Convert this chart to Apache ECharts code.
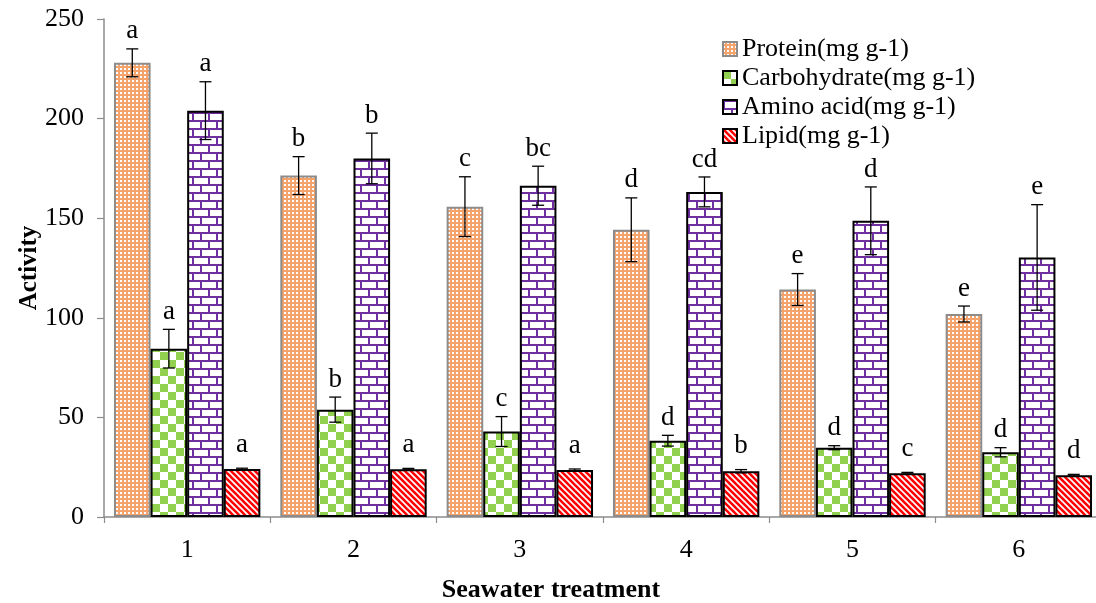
<!DOCTYPE html>
<html>
<head>
<meta charset="utf-8">
<script src="https://cdn.jsdelivr.net/npm/echarts@6/dist/echarts.min.js"></script>
<style>
html,body{margin:0;padding:0;background:#fff;}
#chart{width:1096px;height:603px;}
</style>
</head>
<body>
<div id="chart"></div>
<script>
// ---- data ----
const categories = ['1', '2', '3', '4', '5', '6'];
const seriesNames = ['Protein(mg g-1)', 'Carbohydrate(mg g-1)', 'Amino acid(mg g-1)', 'Lipid(mg g-1)'];
const protein = [228, 171.4, 155.8, 144.2, 114.2, 101.9];
const proteinErr = [7, 9.5, 15, 16, 8, 4];
const proteinLetters = ['a', 'b', 'c', 'd', 'e', 'e'];
const carbohydrate = [84.5, 53.9, 42.9, 38.3, 34.8, 32.5];
const carbohydrateErr = [9.7, 6.3, 7.5, 2.7, 1, 2.3];
const carbohydrateLetters = ['a', 'b', 'c', 'd', 'd', 'd'];
const aminoAcid = [204, 180, 166.3, 163.2, 148.7, 130.3];
const aminoAcidErr = [14.5, 12.7, 9.8, 7.5, 17, 26.5];
const aminoAcidLetters = ['a', 'b', 'bc', 'cd', 'd', 'e'];
const lipid = [24.1, 24, 23.6, 23, 22, 21];
const lipidErr = [0.4, 0.4, 0.5, 0.8, 0.4, 0.4];
const lipidLetters = ['a', 'a', 'a', 'b', 'c', 'd'];
const yTicks = [0, 50, 100, 150, 200, 250];

// ---- patterns ----
function tile(w, h, draw) {
  const c = document.createElement('canvas');
  c.width = w; c.height = h;
  const ctx = c.getContext('2d');
  draw(ctx);
  return { image: c, repeat: 'repeat' };
}
const proteinFill = tile(4, 4, ctx => {
  ctx.fillStyle = '#F4A36C'; ctx.fillRect(0, 0, 4, 4);
  ctx.fillStyle = '#FFFFFF'; ctx.fillRect(0, 0, 2, 2);
});
const carbFill = tile(16, 16, ctx => {
  ctx.fillStyle = '#FFFFFF'; ctx.fillRect(0, 0, 16, 16);
  ctx.fillStyle = '#92D050';
  ctx.fillRect(0, 0, 8, 8); ctx.fillRect(8, 8, 8, 8);
});
const aminoFill = tile(16, 16, ctx => {
  ctx.fillStyle = '#FFFFFF'; ctx.fillRect(0, 0, 16, 16);
  ctx.fillStyle = '#7030A0';
  ctx.fillRect(0, 0, 16, 2); ctx.fillRect(0, 8, 16, 2);
  ctx.fillRect(0, 0, 2, 8); ctx.fillRect(8, 8, 2, 8);
});
const lipidFill = tile(6, 6, ctx => {
  ctx.fillStyle = '#FFFFFF'; ctx.fillRect(0, 0, 6, 6);
  ctx.strokeStyle = '#FF0000'; ctx.lineWidth = 2.6;
  for (let k = -2; k <= 2; k++) {
    ctx.beginPath(); ctx.moveTo(k * 6 - 1, -1); ctx.lineTo(k * 6 + 7, 7); ctx.stroke();
  }
});

const FONT = 'Liberation Serif';
const BAR_W = 0.22;
const values = [protein, carbohydrate, aminoAcid, lipid];
const errs = [proteinErr, carbohydrateErr, aminoAcidErr, lipidErr];
const letters = [proteinLetters, carbohydrateLetters, aminoAcidLetters, lipidLetters];
const fills = [proteinFill, carbFill, aminoFill, lipidFill];
const borders = ['#8C8C8C', '#000000', '#000000', '#000000'];
const letterLift = [0, 0, 0, 6];

const barSeries = seriesNames.map((name, s) => ({
  name: name,
  type: 'bar',
  data: values[s],
  barWidth: (BAR_W * 100) + '%',
  barGap: '0%',
  itemStyle: { color: fills[s], borderColor: borders[s], borderWidth: 2 },
  emphasis: { disabled: true },
  z: 2
}));

const errSeries = seriesNames.map((name, s) => ({
  type: 'custom',
  name: name + ' err',
  data: values[s].map((v, i) => [i, v, errs[s][i]]),
  encode: { x: 0, y: 1 },
  z: 5,
  silent: true,
  renderItem: function (params, api) {
    const cat = api.value(0), v = api.value(1), e = api.value(2);
    const bw = api.size([1, 0])[0];
    const w = bw * BAR_W;
    const off = (s - 1.5) * w;
    const top = api.coord([cat, v + e]);
    const bot = api.coord([cat, v - e]);
    const x = top[0] + off;
    const cap = 6;
    const st = { stroke: '#000', lineWidth: 1.3 };
    return {
      type: 'group',
      children: [
        { type: 'line', shape: { x1: x, y1: top[1], x2: x, y2: bot[1] }, style: st },
        { type: 'line', shape: { x1: x - cap, y1: top[1], x2: x + cap, y2: top[1] }, style: st },
        { type: 'line', shape: { x1: x - cap, y1: bot[1], x2: x + cap, y2: bot[1] }, style: st },
        { type: 'text', x: x, y: top[1] - 4 - letterLift[s],
          style: { text: letters[s][params.dataIndex], fill: '#000', fontFamily: FONT, fontSize: 27,
                   align: 'center', verticalAlign: 'bottom' } }
      ]
    };
  }
}));

const chart = echarts.init(document.getElementById('chart'), null, { renderer: 'canvas' });
chart.setOption({
  animation: false,
  backgroundColor: '#fff',
  textStyle: { fontFamily: FONT },
  grid: { left: 104, right: -6, top: 19, bottom: 86, containLabel: false, outerBoundsMode: 'none' },
  legend: {
    data: seriesNames,
    orient: 'vertical',
    left: 717, top: 31,
    itemWidth: 14, itemHeight: 14, itemGap: 3,
    icon: 'rect',
    textStyle: { fontFamily: FONT, fontSize: 26, color: '#000' },
    selectedMode: false
  },
  xAxis: {
    type: 'category',
    data: categories,
    name: 'Seawater treatment',
    nameLocation: 'middle',
    nameGap: 60,
    nameMoveOverlap: false,
    nameTextStyle: { fontFamily: FONT, fontSize: 26, fontWeight: 'bold', color: '#000', padding: [0, 104, 0, 0] },
    axisLine: { lineStyle: { color: '#8C8C8C', width: 1.5 } },
    axisTick: { show: true, length: 6, lineStyle: { color: '#8C8C8C', width: 1.2 } },
    axisLabel: { fontFamily: FONT, fontSize: 26, color: '#000', margin: 20 }
  },
  yAxis: {
    type: 'value',
    min: 0, max: 250, interval: 50,
    name: 'Activity',
    nameLocation: 'middle',
    nameGap: 62,
    nameMoveOverlap: false,
    nameTextStyle: { fontFamily: FONT, fontSize: 25, fontWeight: 'bold', color: '#000' },
    axisLine: { show: true, lineStyle: { color: '#8C8C8C', width: 1.5 } },
    axisTick: { show: true, length: 7, lineStyle: { color: '#8C8C8C', width: 1.2 } },
    splitLine: { show: false },
    axisLabel: { fontFamily: FONT, fontSize: 26, color: '#000', margin: 20,
                 formatter: v => (yTicks.indexOf(v) >= 0 ? String(v) : '') }
  },
  series: barSeries.concat(errSeries)
});
</script>
</body>
</html>
